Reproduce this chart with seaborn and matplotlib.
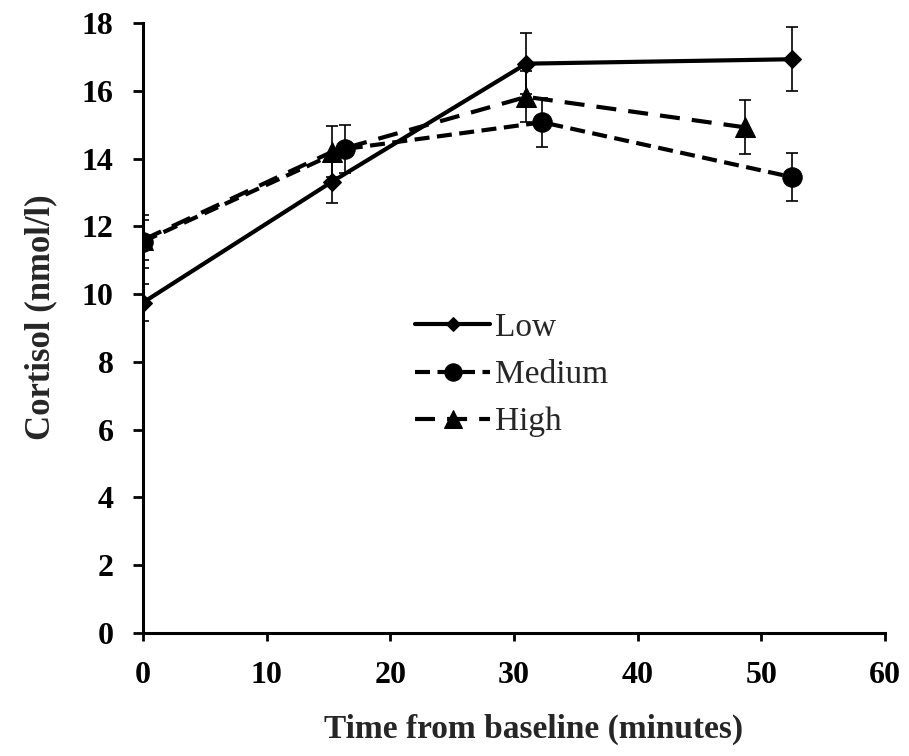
import matplotlib
matplotlib.use("Agg")
import matplotlib.pyplot as plt
import seaborn as sns
import pandas as pd
import numpy as np

# ---- data ----
groups = ["Low", "Medium", "High"]
low_time = [0, 15.3, 31.0, 52.5]
low_cortisol = [9.75, 13.32, 16.8, 16.93]
low_err = [0.55, 0.62, 0.9, 0.95]
medium_time = [0, 16.3, 32.3, 52.5]
medium_cortisol = [11.55, 14.28, 15.07, 13.45]
medium_err = [0.78, 0.72, 0.73, 0.7]
high_time = [0, 15.3, 31.0, 48.7]
high_cortisol = [11.6, 14.2, 15.82, 14.92]
high_err = [0.6, 0.75, 0.75, 0.8]
x_ticks = [0, 10, 20, 30, 40, 50, 60]
y_ticks = [0, 2, 4, 6, 8, 10, 12, 14, 16, 18]

times = [low_time, medium_time, high_time]
vals = [low_cortisol, medium_cortisol, high_cortisol]
errs = [low_err, medium_err, high_err]

rows = []
for g, t, v, e in zip(groups, times, vals, errs):
    for ti, vi, ei in zip(t, v, e):
        rows.append({"time": ti, "cortisol": vi, "err": ei, "group": g})
df = pd.DataFrame(rows)

sns.set_style("white")
plt.rcParams["font.family"] = ["Liberation Serif", "DejaVu Serif"]

fig = plt.figure(figsize=(9.09, 7.56), dpi=100)
ax = fig.add_axes([0.1573, 0.1627, 0.8163, 0.8069])

# error bars
for g in groups:
    sub = df[df.group == g]
    ax.errorbar(sub["time"], sub["cortisol"], yerr=sub["err"], fmt="none",
                ecolor="black", elinewidth=1.2, capsize=4.5, capthick=1.2, zorder=1)

sns.lineplot(data=df, x="time", y="cortisol", hue="group", style="group",
             hue_order=groups, style_order=groups,
             palette={"Low": "black", "Medium": "black", "High": "black"},
             markers={"Low": "D", "Medium": "o", "High": "^"},
             dashes={"Low": "", "Medium": (3.6, 1.8), "High": (4.8, 2.9)},
             linewidth=3, markersize=13, markeredgecolor="black",
             sort=False, ax=ax, zorder=3)

plot_sizes = {"D": 9.2, "o": 14, "^": 14}
for ln in ax.lines:
    m = ln.get_marker()
    if m in plot_sizes:
        ln.set_markersize(plot_sizes[m])

ax.set_xlim(0, 60)
ax.set_ylim(0, 18)
ax.set_xticks(x_ticks)
ax.set_yticks(y_ticks)
ax.tick_params(axis="both", direction="out", width=2, labelsize=23,
               colors="black", bottom=True, left=True)
ax.tick_params(axis="x", length=6, pad=14)
ax.tick_params(axis="y", length=7.2, pad=14)
for lab in ax.get_xticklabels() + ax.get_yticklabels():
    lab.set_fontweight("bold")
for s in ["top", "right"]:
    ax.spines[s].set_visible(False)
for s in ["left", "bottom"]:
    ax.spines[s].set_linewidth(2.2)
    ax.spines[s].set_color("black")

ax.set_xlabel("Time from baseline (minutes)", fontsize=24, fontweight="bold")
ax.set_ylabel("Cortisol (nmol/l)", fontsize=25, fontweight="bold")
ax.xaxis.label.set_va("center")
ax.yaxis.label.set_va("center")
ax.xaxis.set_label_coords(0.527, -0.158)
ax.yaxis.set_label_coords(-0.138, 0.518)

leg = ax.legend(loc="center left", bbox_to_anchor=(0.367, 0.423), frameon=False,
                fontsize=24, handlelength=2.25, handletextpad=0.15,
                labelspacing=0.5, borderpad=0, borderaxespad=0)
leg_sizes = {"D": 7, "o": 12.5, "^": 12.5}
for h in leg.legend_handles:
    m = h.get_marker()
    if m in leg_sizes:
        h.set_markersize(leg_sizes[m])

fig.savefig("out.png", dpi=100)
